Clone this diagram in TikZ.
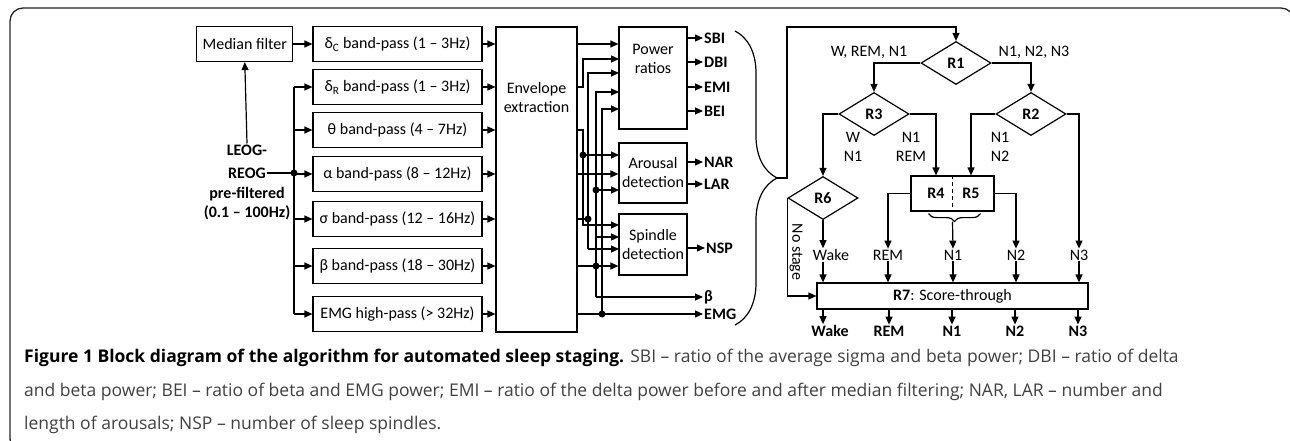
\documentclass[tikz,border=0pt]{standalone}
\usepackage{fontspec}
\setmainfont{Carlito}
\newfontfamily\capfont[Ligatures=TeX]{Open Sans}
\usetikzlibrary{arrows.meta,shapes.geometric,positioning,decorations.pathreplacing,calc}

\begin{document}
\begin{tikzpicture}[
    x=1pt,y=-1pt,
    font=\fontsize{16}{19}\selectfont,
    filt/.style={rectangle,draw,line width=1.2pt,minimum width=169pt,minimum height=35pt,inner sep=0pt},
    blk/.style={rectangle,draw,line width=1.2pt,inner sep=0pt,align=center},
    dmd/.style={diamond,draw,line width=1.2pt,minimum width=70pt,minimum height=43pt,inner sep=0pt,font=\fontsize{16}{19}\selectfont\bfseries},
    lbl/.style={inner sep=1pt,align=center},
    outlbl/.style={inner sep=1pt,anchor=west,font=\fontsize{16}{19}\selectfont\bfseries},
    stg/.style={inner sep=1pt,font=\fontsize{16}{19}\selectfont\bfseries},
    arrow/.style={line width=1.2pt,-{Triangle[length=8pt,width=7pt]}},
    wire/.style={line width=1.2pt}
]
    \useasboundingbox (0,0) rectangle (1290,441);
    \draw[line width=1.3pt,black!85,rounded corners=13pt] (10,8) rectangle (1294,452);

    % input and band-pass filters
    \node[filt] (fdc) at (397.5,44) {δ\textsubscript{C} band-pass (1 – 3Hz)};
    \node[filt] (fdr) at (397.5,87) {δ\textsubscript{R} band-pass (1 – 3Hz)};
    \node[filt] (fth) at (397.5,130) {θ band-pass (4 – 7Hz)};
    \node[filt] (fal) at (397.5,174) {α band-pass (8 – 12Hz)};
    \node[filt] (fsg) at (397.5,219) {σ band-pass (12 – 16Hz)};
    \node[filt] (fbe) at (397.5,266) {β band-pass (18 – 30Hz)};
    \node[filt] (femg) at (397.5,314) {EMG high-pass (> 32Hz)};
    \node[blk,minimum width=96pt,minimum height=35pt,left=19pt of fdc] (med) {Median filter};

    \node[lbl,font=\fontsize{16}{19}\selectfont\bfseries] (leog) at (247,150) {LEOG-};
    \node[lbl,font=\fontsize{16}{19}\selectfont\bfseries] (reog) at (247,173) {REOG};
    \node[lbl,font=\fontsize{16}{19}\selectfont\bfseries] (pref) at (247,204) {pre-filtered\\(0.1 – 100Hz)};
    \coordinate (bus) at (294,0);

    \draw[arrow] (leog.north) -- (med.south);
    \draw[wire] (reog.east) -- (bus |- reog);
    \fill (bus |- reog) circle (3.5pt);
    \draw[wire] (bus |- fdr) -- (bus |- femg);
    \draw[arrow] (med.east) -- (fdc.west |- med.east);
    \draw[arrow] (bus |- fdr) -- (fdr.west);
    \draw[arrow] (bus |- fth) -- (fth.west);
    \draw[arrow] (bus |- fal) -- (fal.west);
    \draw[arrow] (bus |- fsg) -- (fsg.west);
    \draw[arrow] (bus |- fbe) -- (fbe.west);
    \draw[arrow] (bus |- femg) -- (femg.west);

    % envelope and feature blocks
    \node[blk,minimum width=81pt,minimum height=305pt] (env) at (536.5,179.5) {};
    \node[lbl] (envtxt) at (536.5,98) {Envelope\\extraction};
    \node[blk,minimum width=68pt,minimum height=102pt] (pr) at (653,78) {};
    \node[lbl] (prtxt) at (653,58.5) {Power\\ratios};
    \node[blk,minimum width=68pt,minimum height=60pt] (ar) at (653,173) {Arousal\\detection};
    \node[blk,minimum width=68pt,minimum height=61pt] (sp) at (653,244.5) {Spindle\\detection};

    \draw[arrow] (fdc.east) -- (env.west |- fdc);
    \draw[arrow] (fdr.east) -- (env.west |- fdr);
    \draw[arrow] (fth.east) -- (env.west |- fth);
    \draw[arrow] (fal.east) -- (env.west |- fal);
    \draw[arrow] (fsg.east) -- (env.west |- fsg);
    \draw[arrow] (fbe.east) -- (env.west |- fbe);
    \draw[arrow] (femg.east) -- (env.west |- femg);

    \node[outlbl] (osbi) at (703,38) {SBI};
    \node[outlbl] (odbi) at (703,62) {DBI};
    \node[outlbl] (oemi) at (703,87) {EMI};
    \node[outlbl] (obei) at (703,111) {BEI};
    \node[outlbl] (onar) at (703,162) {NAR};
    \node[outlbl] (olar) at (703,184) {LAR};
    \node[outlbl] (onsp) at (705,248) {NSP};
    \node[outlbl] (obeta) at (703,297) {β};
    \node[outlbl] (oemg) at (703,314) {EMG};

    \draw[arrow] (pr.east |- osbi) -- (osbi.west);
    \draw[arrow] (pr.east |- odbi) -- (odbi.west);
    \draw[arrow] (pr.east |- oemi) -- (oemi.west);
    \draw[arrow] (pr.east |- obei) -- (obei.west);
    \draw[arrow] (ar.east |- onar) -- (onar.west);
    \draw[arrow] (ar.east |- olar) -- (olar.west);
    \draw[arrow] (sp.east |- onsp) -- (onsp.west);

    % wiring between envelope and blocks
    \coordinate (xa) at (583,0);
    \coordinate (xs) at (588,0);
    \coordinate (xb) at (596,0);
    \coordinate (xe) at (602,0);
    \coordinate (pr2) at (619,59);
    \coordinate (pr3) at (619,73);
    \coordinate (pr4) at (619,92);
    \coordinate (pr5) at (619,109);
    \coordinate (ar1) at (619,155);
    \coordinate (ar3) at (619,190);
    \coordinate (sp1) at (619,225);
    \coordinate (sp2) at (619,237);
    \coordinate (sp3) at (619,249);

    \draw[arrow] (env.east |- fdc) -- (pr.west |- fdc);
    \draw[arrow] (env.east |- fdr) -| (xa |- pr2) -- (pr2);
    \draw[arrow] (env.east |- fth) -| (xa |- sp1) -- (sp1);
    \draw[arrow] (xa |- ar1) -- (ar1);
    \draw[arrow] (env.east |- fal) -- (ar.west |- fal);
    \draw[wire] (env.east |- fsg) -- (xs |- fsg);
    \draw[arrow] (xs |- sp3) |- (pr3);
    \draw[arrow] (xs |- sp3) -- (sp3);
    \draw[arrow] (env.east |- fbe) -- (sp.west |- fbe);
    \draw[arrow] (xb |- obeta) |- (pr4);
    \draw[arrow] (xb |- obeta) -- (obeta.west);
    \draw[arrow] (xb |- ar3) -- (ar3);
    \draw[arrow] (xb |- sp2) -- (sp2);
    \draw[arrow] (env.east |- femg) -- (oemg.west);
    \draw[arrow] (xe |- femg) |- (pr5);
    \fill (xa |- ar1) circle (3.5pt);
    \fill (xs |- fsg) circle (3.5pt);
    \fill (xb |- ar3) circle (3.5pt);
    \fill (xb |- fbe) circle (3.5pt);
    \fill (xe |- femg) circle (3.5pt);

    % brace into the rules
    \coordinate (bra) at (735,31);
    \coordinate (brb) at (735,325);
    \coordinate (btip) at (777,178);
    \coordinate (ntop) at (787,27);
    \draw[wire,decorate,decoration={brace,amplitude=42pt}] (bra) -- (brb);

    % decision rules
    \node[dmd] (r1) at (956,63) {R1};
    \node[dmd] (r3) at (874,114) {R3};
    \node[dmd] (r2) at (1031,114) {R2};
    \node[dmd] (r6) at (823,198) {R6};
    \node[blk,minimum width=83pt,minimum height=35pt] (rb) at (952.5,193.5) {};
    \node[stg] (r4) at (936,193.5) {R4};
    \node[stg] (r5) at (971,193.5) {R5};
    \draw[wire,dash pattern=on 4pt off 3pt] (rb.north) -- (rb.south);

    \node[lbl] (lw) at (869,52) {W, REM, N1};
    \node[lbl] (ln) at (1034,52) {N1, N2, N3};
    \node[lbl] (l3a) at (853,146.5) {W\\N1};
    \node[lbl] (l3b) at (911,146.5) {N1\\REM};
    \node[lbl] (l2a) at (1000,146.5) {N1\\N2};
    \node[lbl,rotate=-90] (nost) at (796,252) {No stage};

    \node[lbl] (swk) at (831,255) {Wake};
    \node[lbl] (srem) at (888,255) {REM};
    \node[lbl] (sn1) at (953,255) {N1};
    \node[lbl] (sn2) at (1016,255) {N2};
    \node[lbl] (sn3) at (1079,255) {N3};

    \node[blk,minimum width=271pt,minimum height=26pt] (r7) at (952.5,296) {\textbf{R7}: Score-through};

    \node[stg] (owk) at (830,331) {Wake};
    \node[stg] (orem) at (889,331) {REM};
    \node[stg] (on1) at (952,331) {N1};
    \node[stg] (on2) at (1015,331) {N2};
    \node[stg] (on3) at (1078,331) {N3};

    \draw[arrow] (btip) -| (ntop) -| (r1.north);
    \draw[arrow] (r1.west) -| (r3.north);
    \draw[arrow] (r1.east) -| (r2.north);
    \draw[arrow] (r3.west) -| (r6.north);
    \draw[arrow] (r3.east) -| (r4 |- rb.north);
    \draw[arrow] (r2.west) -| (r5 |- rb.north);
    \draw[arrow] (r2.east) -| (sn3.north);
    \draw[arrow] (r6.south) -- (r6.south |- swk.north);
    \draw[arrow] (rb.west) -| (srem.north);
    \draw[arrow] (rb.east) -| (sn2.north);
    \draw[wire,decorate,decoration={brace,amplitude=8pt,mirror}] ($(rb.south)+(-24,2)$) -- ($(rb.south)+(28,2)$);
    \coordinate (sbt) at ($(rb.south)+(0,10)$);
    \draw[arrow] (sbt) -- (sn1.north);
    \draw[arrow] (r6.west) |- (r7.west);

    \draw[arrow] (r6.south |- swk.south) -- (r6.south |- r7.north);
    \draw[arrow] (srem.south) -- (srem.south |- r7.north);
    \draw[arrow] (sn1.south) -- (sn1.south |- r7.north);
    \draw[arrow] (sn2.south) -- (sn2.south |- r7.north);
    \draw[arrow] (sn3.south) -- (sn3.south |- r7.north);
    \draw[arrow] (r6.south |- r7.south) -- (r6.south |- owk.north);
    \draw[arrow] (orem.north |- r7.south) -- (orem.north);
    \draw[arrow] (on1.north |- r7.south) -- (on1.north);
    \draw[arrow] (on2.north |- r7.south) -- (on2.north);
    \draw[arrow] (on3.north |- r7.south) -- (on3.north);

    % caption
    \node[anchor=north west,align=left,inner sep=0pt,text=black!75,font=\capfont\fontsize{17.5}{31.5}\selectfont] (cap) at (24,349)
        {\textbf{\color{black}Figure 1 Block diagram of the algorithm for automated sleep staging.} SBI – ratio of the average sigma and beta power; DBI – ratio of delta\\[2pt]
         and beta power; BEI – ratio of beta and EMG power; EMI – ratio of the delta power before and after median filtering; NAR, LAR – number and\\[2pt]
         length of arousals; NSP – number of sleep spindles.};
\end{tikzpicture}
\end{document}
